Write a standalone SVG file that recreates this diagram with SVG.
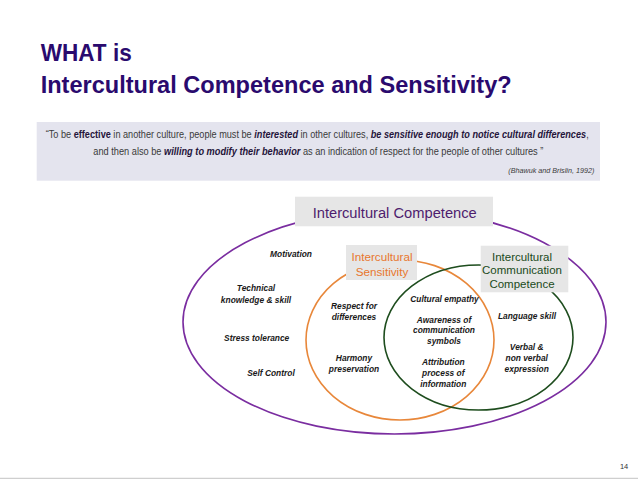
<svg xmlns="http://www.w3.org/2000/svg" width="638" height="479" viewBox="0 0 638 479">
<style>
.title{font-family:"Liberation Sans",Arial,sans-serif;font-weight:bold;font-size:24.5px;fill:#2a0a6e}
.q{font-family:"Liberation Sans",Arial,sans-serif;font-size:10px;fill:#3a3a3a}
.b{font-weight:bold;fill:#24143a}
.bi{font-weight:bold;font-style:italic;fill:#24143a}
.cite{font-family:"Liberation Sans",Arial,sans-serif;font-size:8px;font-style:italic;fill:#3a3a3a}
.item{font-family:"Liberation Sans",Arial,sans-serif;font-size:8.4px;font-weight:bold;font-style:italic;fill:#1a1a1a;text-anchor:middle}
.box{fill:#e6e6e6}
.lbl{font-family:"Liberation Sans",Arial,sans-serif;text-anchor:middle}
</style>
<rect width="638" height="479" fill="#ffffff"/>
<text class="title" x="40.7" y="61" textLength="91" lengthAdjust="spacingAndGlyphs">WHAT is</text>
<text class="title" x="40.7" y="93.3" textLength="471" lengthAdjust="spacingAndGlyphs">Intercultural Competence and Sensitivity?</text>
<g id="quote">
<rect x="36.7" y="122" width="563.3" height="58.7" fill="#e4e4ee"/>
<g transform="translate(45.7,138) scale(0.916,1)">
<text class="q" x="0" y="0">“To be <tspan class="b">effective</tspan> in another culture, people must be <tspan class="bi">interested</tspan> in other cultures, <tspan class="bi">be sensitive enough to notice cultural differences</tspan>,</text>
</g>
<g transform="translate(93.3,155.3) scale(0.924,1)">
<text class="q" x="0" y="0">and then also be <tspan class="bi">willing to modify their behavior</tspan> as an indication of respect for the people of other cultures ”</text>
</g>
<g transform="translate(594.3,173.3) scale(0.9,1)">
<text class="cite" x="0" y="0" text-anchor="end">(Bhawuk and Brislin, 1992)</text>
</g>
</g>
<g id="shapes" fill="none" stroke-width="1.6">
<ellipse cx="394.5" cy="322" rx="211.5" ry="112" stroke="#7a2da0"/>
<ellipse cx="400" cy="340" rx="94" ry="80" stroke="#e8873a"/>
<ellipse cx="478.5" cy="337.5" rx="94.5" ry="72.5" stroke="#1e4d1e"/>
</g>
<g id="intercultural-competence">
<rect class="box" x="295" y="196.7" width="198" height="29.6"/>
<text class="lbl" x="394.7" y="218" font-size="14.7" fill="#4e1d6e">Intercultural Competence</text>
<text class="item" x="291" y="257.3">Motivation</text>
<text class="item" x="256" y="290.7">Technical</text>
<text class="item" x="256" y="302.7">knowledge &amp; skill</text>
<text class="item" x="256.7" y="341">Stress tolerance</text>
<text class="item" x="271" y="376">Self Control</text>
</g>
<g id="intercultural-sensitivity">
<rect class="box" x="346" y="245" width="71" height="35"/>
<text class="lbl" x="382" y="261" font-size="11.7" fill="#e8772e">Intercultural</text>
<text class="lbl" x="382" y="275.5" font-size="11.7" fill="#e8772e">Sensitivity</text>
<text class="item" x="354" y="309.3">Respect for</text>
<text class="item" x="354" y="320">differences</text>
<text class="item" x="354" y="361">Harmony</text>
<text class="item" x="354" y="371.5">preservation</text>
</g>
<g id="overlap">
<text class="item" x="444.5" y="301.7">Cultural empathy</text>
<text class="item" x="444" y="322.7">Awareness of</text>
<text class="item" x="444" y="333.3">communication</text>
<text class="item" x="444" y="344.3">symbols</text>
<text class="item" x="443.3" y="365.3">Attribution</text>
<text class="item" x="443.3" y="376">process of</text>
<text class="item" x="443.3" y="386.7">information</text>
</g>
<g id="intercultural-communication-competence">
<rect class="box" x="480.7" y="245.7" width="87.6" height="46.6"/>
<text class="lbl" x="522" y="261" font-size="11.5" fill="#1b4a1b">Intercultural</text>
<text class="lbl" x="522" y="274.3" font-size="11.5" fill="#1b4a1b">Communication</text>
<text class="lbl" x="522" y="288" font-size="11.5" fill="#1b4a1b">Competence</text>
<text class="item" x="527" y="319">Language skill</text>
<text class="item" x="526.7" y="350">Verbal &amp;</text>
<text class="item" x="526.7" y="361">non verbal</text>
<text class="item" x="526.7" y="372">expression</text>
</g>
<text x="628.3" y="469.3" text-anchor="end" font-family="Liberation Sans, Arial, sans-serif" font-size="7.5" fill="#333">14</text>
<line x1="0" y1="478.3" x2="638" y2="478.3" stroke="#cfcfcf" stroke-width="1.2"/>
</svg>
